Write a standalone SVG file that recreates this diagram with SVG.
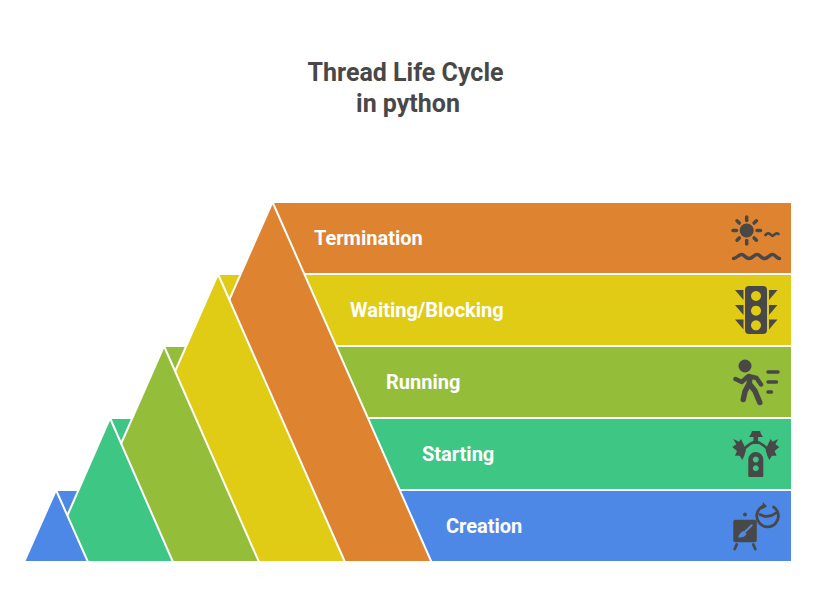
<svg xmlns="http://www.w3.org/2000/svg" width="817" height="611" viewBox="0 0 817 611">
<style>
text{font-family:Roboto,"Liberation Sans",sans-serif;font-weight:700}
.t{font-size:25px;fill:#484848;text-anchor:middle}
.l{font-size:20px;fill:#fff}
.s{stroke:#fff;stroke-width:2;stroke-linejoin:miter}
.blue{fill:#4e88e7}.green{fill:#3ec685}.olive{fill:#94bd3a}.yellow{fill:#e0cc14}.orange{fill:#de8431}
.i{fill:#484848}
.r{fill:none;stroke:#484848;stroke-width:3.500;stroke-linecap:round;stroke-linejoin:round}
.r25{stroke-width:2.500}
.r28{stroke-width:2.800}
.r45{stroke-width:4.500}
.r55{stroke-width:5.500}
</style>
<rect width="817" height="611" fill="#fff"/>
<g id="title"><text class="t" x="405.500" y="80.500">Thread Life Cycle</text><text class="t" x="408" y="111.500">in python</text></g>
<g id="connectors"/>
<g id="bands">
<polygon class="blue" points="57,491 791,491 791,561 88,561"/>
<polygon class="green" points="111,419 791,419 791,489 142,489"/>
<polygon class="olive" points="165,347 791,347 791,417 196,417"/>
<polygon class="yellow" points="219,275 791,275 791,345 250,345"/>
<polygon class="orange" points="273,203 791,203 791,273 304,273"/>
</g>
<g id="peaks">
<polygon class="orange s" points="272.500,202 431.500,562 113.500,562"/>
<polygon class="yellow s" points="218,274 345,562 91,562"/>
<polygon class="olive s" points="164,346 259,562 69,562"/>
<polygon class="green s" points="110,418 173,562 47,562"/>
<polygon class="blue s" points="56,490 88,562 24,562"/>
</g>
<g id="termination"><text class="l" x="314" y="244.500">Termination</text>
<circle class="i" cx="746.700" cy="230.500" r="7"/>
<path class="r" d="M746.700 217v3.500M746.700 240.500v3.500M733 230.500h3.500M757 230.500h3.500M737 220.800l2.300 2.300M754.100 237.900l2.300 2.300M737 240.200l2.300-2.300M754.100 223.100l2.300-2.300"/>
<path class="r r28" d="M765.500 235q3-3 5-.5t4 0q2-2 4-.5"/>
<path class="r" d="M733.500 258.500c3 0 5-4 8-4s4 4 7.500 4 5-4 8-4 4 4 7.500 4 5-4 8-4 4 4 7 4"/></g>
<g id="waiting"><text class="l" x="350" y="316.500">Waiting/Blocking</text>
<path class="i" fill-rule="evenodd" d="M749 286h14q4 0 4 4v40q0 4-4 4h-14q-4 0-4-4v-40q0-4 4-4zM756 291a5 5 0 1 0 .01 0zM756 305.700a5 5 0 1 0 .01 0zM756 320.300a5 5 0 1 0 .01 0z"/>
<path class="i" d="M735 290h8.500v10zM735 305h8.500v10zM735 319.500h8.500v10zM777.500 290h-8.500v10zM777.500 305h-8.500v10zM777.500 319.500h-8.500v10z"/></g>
<g id="running"><text class="l" x="386" y="388.500">Running</text>
<circle class="i" cx="745" cy="366" r="6.500"/>
<path class="r r45" d="M735.500 379l6.200 3 6.800-6 8 2 4.500 6.500"/>
<path class="r r55" d="M750 378l-1 6-4 7.500-1.700 8M749.500 384l5.500 7 4.800 11.500"/>
<path class="r" d="M768 372h10M768 382h8.500M768 392h3.500"/></g>
<g id="starting"><text class="l" x="422" y="460.500">Starting</text>
<path class="i" fill-rule="evenodd" d="M748.300 476v-16.500a7.500 7.500 0 0 1 15 0v16.500q0 1-1 1h-13q-1 0-1-1zM755.800 456.500a3 3 0 1 0 .01 0zM755.800 465.300a3 3 0 1 0 .01 0z"/>
<path class="i" d="M752 431h8l1 3 2 3h-14l2-3zM753.500 437h4.500v7h-4.500z"/>
<path class="r r25" d="M745 448Q750 443 755.800 441.500Q761.500 443 766.500 448"/>
<g id="wings"><polygon class="i" points="733.300,439 739,441.700 741,439 744.300,445.700 746,450 744.300,455.700 742.300,460 739.700,455.700 735,455.700 737,451 732.300,447 736.300,444.300"/>
<polygon class="i" transform="translate(1511.600 0) scale(-1 1)" points="733.300,439 739,441.700 741,439 744.300,445.700 746,450 744.300,455.700 742.300,460 739.700,455.700 735,455.700 737,451 732.300,447 736.300,444.300"/></g></g>
<g id="creation"><text class="l" x="446" y="532.500">Creation</text>
<path class="i" fill-rule="evenodd" d="M735.300 519.700h19.500q2 0 2 2v18.500q0 2-2 2h-19.500q-2 0-2-2v-18.500q0-2 2-2z"/>
<path d="M751.700 525.300l-6.700 6.500" fill="none" stroke="#4e88e7" stroke-width="2" stroke-linecap="round"/>
<path d="M738 537.500q2-6 6-6.500l2.500 3q-2 4-8.500 3.500z" fill="#4e88e7"/>
<circle class="i" cx="745" cy="514.500" r="2"/>
<path class="r r28" d="M736.700 544.500l-2 4.500M753.300 544.500l2 4.500"/>
<path class="r r28" d="M762 506.800A10.800 10.800 0 1 0 773.500 507"/>
<path class="r r28" d="M760 514.500Q768 519 776 513"/>
<path class="i" d="M763 502l4 4.500-5.500 3z"/></g>
</svg>
